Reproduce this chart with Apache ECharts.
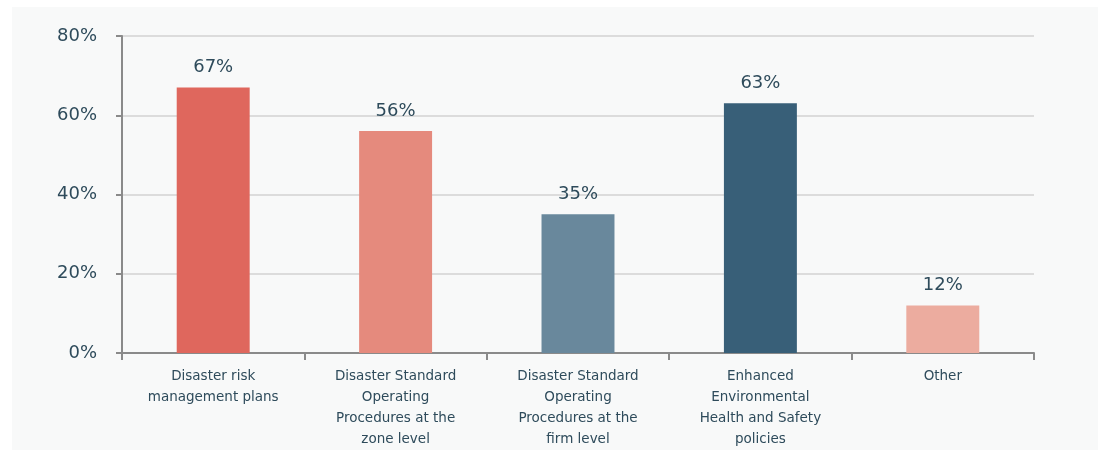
<!DOCTYPE html>
<html>
<head>
<meta charset="utf-8">
<script src="https://cdn.jsdelivr.net/npm/echarts@6/dist/echarts.min.js"></script>
<style>
  html, body { margin: 0; padding: 0; background: #ffffff; }
  #chart { width: 1098px; height: 450px; }
</style>
</head>
<body>
<div id="chart"></div>
<script>
// Measures adopted, share of respondents (%)
const categories = [
  'Disaster risk\nmanagement plans',
  'Disaster Standard\nOperating\nProcedures at the\nzone level',
  'Disaster Standard\nOperating\nProcedures at the\nfirm level',
  'Enhanced\nEnvironmental\nHealth and Safety\npolicies',
  'Other'
];
const values = [67, 56, 35, 63, 12];
const barColors = ['#df675d', '#e58a7d', '#69889c', '#385f78', '#ecac9f'];
const yTicks = [0, 20, 40, 60, 80];

const textColor = '#2e4b5b';
const fontFamily = '"DejaVu Sans", "Open Sans", sans-serif';

const chart = echarts.init(document.getElementById('chart'), null, { renderer: 'canvas' });

chart.setOption({
  animation: false,
  backgroundColor: '#ffffff',
  graphic: [{
    type: 'rect',
    left: 12, top: 7,
    shape: { width: 1086, height: 443 },
    style: { fill: '#f8f9f9' },
    z: -10
  }],
  grid: { left: 122, right: 64, top: 36, bottom: 97 },
  xAxis: {
    type: 'category',
    data: categories,
    axisLine: { show: true, lineStyle: { color: '#8a8a8a', width: 2 } },
    axisTick: { show: true, length: 7, alignWithLabel: false, lineStyle: { color: '#8a8a8a', width: 2 } },
    axisLabel: {
      color: textColor,
      fontFamily: fontFamily,
      fontSize: 13.5,
      lineHeight: 21,
      margin: 13,
      interval: 0
    }
  },
  yAxis: {
    type: 'value',
    min: yTicks[0],
    max: yTicks[yTicks.length - 1],
    interval: 20,
    axisLine: { show: true, lineStyle: { color: '#8a8a8a', width: 2 } },
    axisTick: { show: true, length: 6, lineStyle: { color: '#8a8a8a', width: 2 } },
    splitLine: { show: true, lineStyle: { color: '#dcdcdc', width: 2 } },
    axisLabel: {
      color: textColor,
      fontFamily: fontFamily,
      fontSize: 18,
      margin: 25,
      formatter: v => v + '%'
    }
  },
  series: [{
    type: 'bar',
    barWidth: '40%',
    data: values.map((v, i) => ({ value: v, itemStyle: { color: barColors[i] } })),
    label: {
      show: true,
      position: 'top',
      distance: 11,
      color: textColor,
      fontFamily: fontFamily,
      fontSize: 18,
      formatter: p => p.value + '%'
    }
  }]
});
</script>
</body>
</html>
